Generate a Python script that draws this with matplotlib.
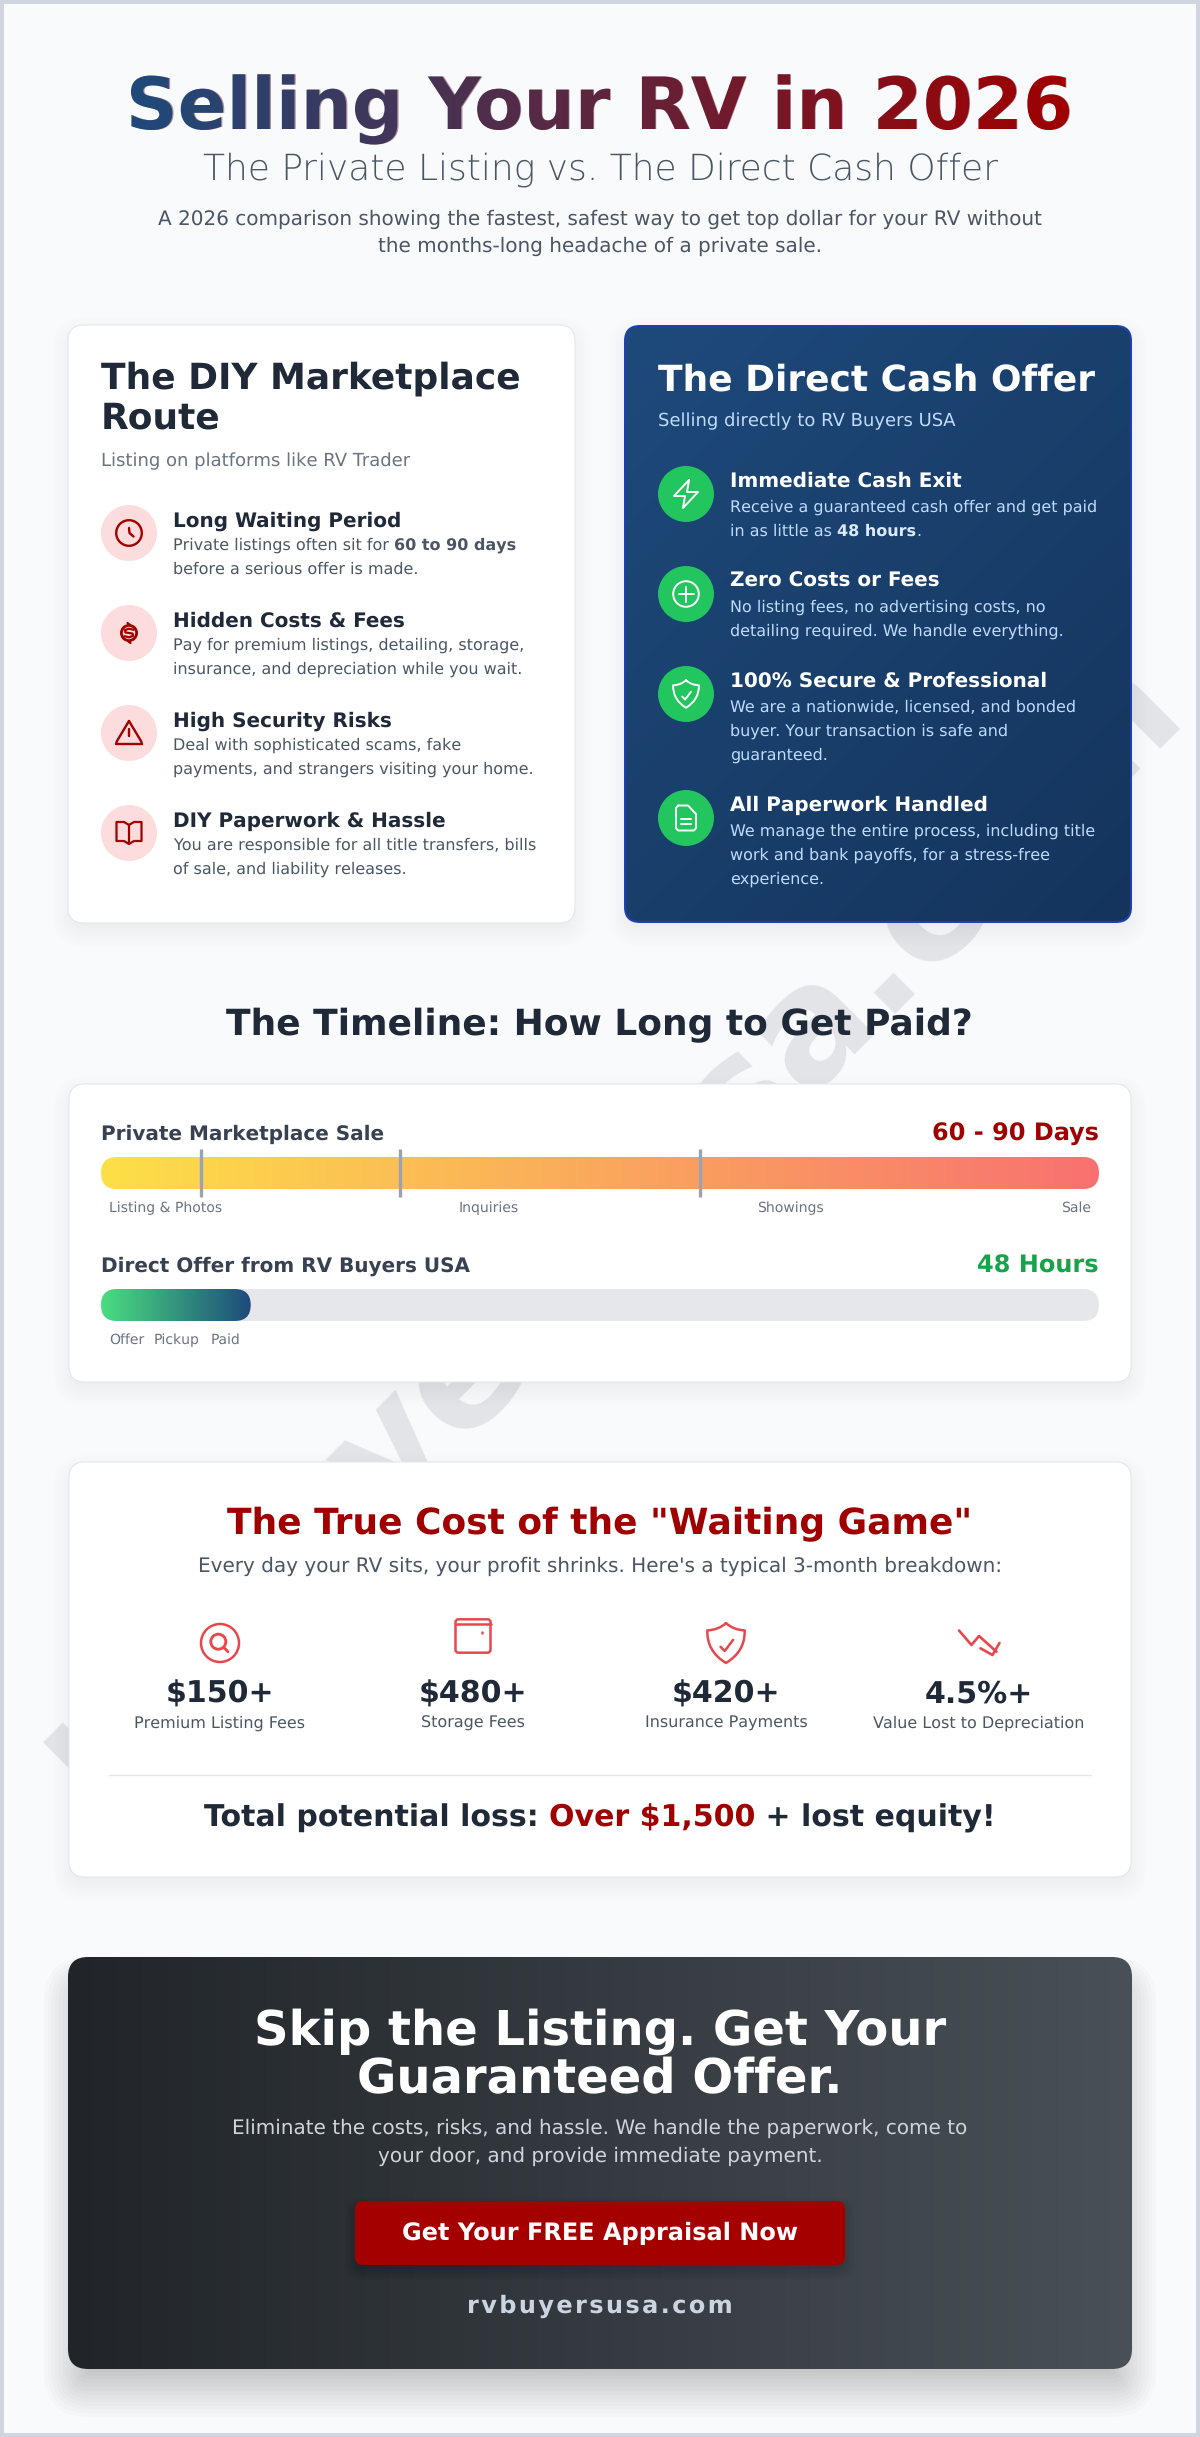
"""
Selling Your RV in 2026 - infographic rebuilt with matplotlib
Everything is placed in page pixels (1200 x 2437)
"""

import numpy as np
import matplotlib.pyplot as plt
from matplotlib.colors import to_rgb
from matplotlib.font_manager import FontProperties
from matplotlib.patches import Circle, FancyBboxPatch, PathPatch, Rectangle
from matplotlib.path import Path
from matplotlib.textpath import TextPath

plt.rcParams["font.family"] = ["DejaVu Sans"]
plt.rcParams["text.hinting"] = "no_hinting"
plt.rcParams["text.hinting_factor"] = 1

PAGE_W, PAGE_H = 1200, 2437

# ---- content ----
title = "Selling Your RV in 2026"
subtitle = "The Private Listing vs. The Direct Cash Offer"
intro_lines = [
    "A 2026 comparison showing the fastest, safest way to get top dollar for your RV without",
    "the months-long headache of a private sale.",
]

diy_title = ["The DIY Marketplace", "Route"]
diy_sub = "Listing on platforms like RV Trader"
diy_heads = ["Long Waiting Period", "Hidden Costs & Fees", "High Security Risks", "DIY Paperwork & Hassle"]
diy_bodies = [
    [[("Private listings often sit for ", "normal"), ("60 to 90 days", "bold")], [("before a serious offer is made.", "normal")]],
    [[("Pay for premium listings, detailing, storage,", "normal")], [("insurance, and depreciation while you wait.", "normal")]],
    [[("Deal with sophisticated scams, fake", "normal")], [("payments, and strangers visiting your home.", "normal")]],
    [[("You are responsible for all title transfers, bills", "normal")], [("of sale, and liability releases.", "normal")]],
]

cash_title = "The Direct Cash Offer"
cash_sub = "Selling directly to RV Buyers USA"
cash_heads = ["Immediate Cash Exit", "Zero Costs or Fees", "100% Secure & Professional", "All Paperwork Handled"]
cash_bodies = [
    [[("Receive a guaranteed cash offer and get paid", "normal")], [("in as little as ", "normal"), ("48 hours", "bold"), (".", "normal")]],
    [[("No listing fees, no advertising costs, no", "normal")], [("detailing required. We handle everything.", "normal")]],
    [[("We are a nationwide, licensed, and bonded", "normal")], [("buyer. Your transaction is safe and", "normal")], [("guaranteed.", "normal")]],
    [[("We manage the entire process, including title", "normal")], [("work and bank payoffs, for a stress-free", "normal")], [("experience.", "normal")]],
]

timeline_title = "The Timeline: How Long to Get Paid?"
private_label, private_time = "Private Marketplace Sale", "60 - 90 Days"
private_marks = [0.10, 0.30, 0.60]  # share of the bar
private_stages = ["Listing & Photos", "Inquiries", "Showings", "Sale"]
direct_label, direct_time = "Direct Offer from RV Buyers USA", "48 Hours"
direct_fill = 0.15
direct_stages = ["Offer", "Pickup", "Paid"]

cost_title = 'The True Cost of the "Waiting Game"'
cost_sub = "Every day your RV sits, your profit shrinks. Here's a typical 3-month breakdown:"
cost_values = ["$150+", "$480+", "$420+", "4.5%+"]
cost_labels = ["Premium Listing Fees", "Storage Fees", "Insurance Payments", "Value Lost to Depreciation"]
total_parts = [("Total potential loss: ", "#1f2937"), ("Over $1,500", "#a00000"), (" + lost equity!", "#1f2937")]

cta_heads = ["Skip the Listing. Get Your", "Guaranteed Offer."]
cta_lines = [
    "Eliminate the costs, risks, and hassle. We handle the paperwork, come to",
    "your door, and provide immediate payment.",
]
cta_button = "Get Your FREE Appraisal Now"
cta_url = "rvbuyersusa.com"
watermark = "rvbuyersusa.com"

# ---- colours ----
INK = "#1f2937"
SLATE = "#374151"
GREY = "#4b5563"
MUTED = "#6b7280"
RED = "#a00000"
NAVY = "#1e4a7b"
LINE = "#e5e7eb"

# ---- page ----
fig = plt.figure(figsize=(PAGE_W / 100, PAGE_H / 100), dpi=100)
ax = fig.add_axes([0, 0, 1, 1])
ax.set_xlim(0, PAGE_W)
ax.set_ylim(PAGE_H, 0)
ax.set_autoscale_on(False)
ax.axis("off")
renderer = fig.canvas.get_renderer()


def put(x, y, s, px, color=INK, weight="normal", ha="left", z=5, **kw):
    """Text at baseline y with the size given in css pixels."""
    return ax.text(x, y, s, fontsize=px * 0.72, color=color, fontweight=weight,
                   ha=ha, va="baseline", zorder=z, **kw)


def text_width(s, px, weight="normal"):
    # the bar keeps trailing spaces in the measurement
    t = ax.text(0, 0, s + "|", fontsize=px * 0.72, fontweight=weight)
    b = ax.text(0, 0, "|", fontsize=px * 0.72, fontweight=weight)
    w = t.get_window_extent(renderer).width - b.get_window_extent(renderer).width
    t.remove()
    b.remove()
    return w


def put_runs(x, y, runs, px, z=5):
    """runs = list of (string, colour, weight), drawn one after the other."""
    for s, color, weight in runs:
        put(x, y, s, px, color, weight, z=z)
        x += text_width(s, px, weight)


def box(x, y, w, h, r, z=2, **kw):
    p = FancyBboxPatch((x, y), w, h, boxstyle=f"round,pad=0,rounding_size={r}",
                       transform=ax.transData, zorder=z, **kw)
    ax.add_patch(p)
    return p


def gradient_image(w, h, c0, c1, angle):
    """CSS style linear gradient as an image."""
    w_i, h_i = int(round(w)), int(round(h))
    xx, yy = np.meshgrid(np.arange(w_i) + 0.5 - w_i / 2, np.arange(h_i) + 0.5 - h_i / 2)
    a = np.deg2rad(angle)
    length = abs(w_i * np.sin(a)) + abs(h_i * np.cos(a))
    t = np.clip((xx * np.sin(a) - yy * np.cos(a)) / length + 0.5, 0, 1)[..., None]
    return (1 - t) * np.array(to_rgb(c0)) + t * np.array(to_rgb(c1))


def gradient_box(x, y, w, h, r, c0, c1, angle=90, z=3):
    clip = FancyBboxPatch((x, y), w, h, boxstyle=f"round,pad=0,rounding_size={r}",
                          transform=ax.transData)
    im = ax.imshow(gradient_image(w, h, c0, c1, angle), extent=(x, x + w, y + h, y),
                   aspect="auto", zorder=z, interpolation="bilinear")
    im.set_clip_path(clip)
    return im


def shadow(x, y, w, h, r, dy, blur, alpha, inset=0, z=1):
    n = 16
    for i in range(n):
        g = blur * (1 - 2 * i / n) - inset
        box(x - g, y + dy - g, w + 2 * g, h + 2 * g, max(r + g, 1), z=z,
            facecolor="black", edgecolor="none", alpha=alpha / n)


def stroke(pts, cx, cy, color, lw=1.5):
    """Icon line, points given relative to the icon centre."""
    arr = np.array(pts, dtype=float) + [cx, cy]
    ax.plot(arr[:, 0], arr[:, 1], color=color, lw=lw, solid_capstyle="round",
            solid_joinstyle="round", zorder=6)


M, L, C3 = Path.MOVETO, Path.LINETO, Path.CURVE3


def ring(cx, cy, r, color, lw):
    ax.add_patch(Circle((cx, cy), r, facecolor="none", edgecolor=color, lw=lw, zorder=6))


def icon_clock(cx, cy, color, lw=1.7):
    ring(cx, cy, 12.8, color, lw)
    stroke([(0, -5), (0.5, 0), (4.5, 3.5)], cx, cy, color, lw)


def icon_money(cx, cy, color, lw=2.0):
    ring(cx, cy, 7.6, color, lw)
    stroke([(4.5, -3.2), (0, -4.3), (-4, -3), (-3.5, -0.5), (0, 0), (3.5, 0.5), (4, 3), (0, 4.3), (-4.5, 3.2)],
           cx, cy, color, lw * 0.8)
    stroke([(-1.5, -10), (0.5, -8.5)], cx, cy, color, lw * 0.8)
    stroke([(1.5, 10), (-0.5, 8.5)], cx, cy, color, lw * 0.8)


def icon_warning(cx, cy, color, lw=1.7):
    stroke([(0, -12), (12, 8), (13, 11), (-13, 11), (-12, 8), (0, -12)], cx, cy, color, lw)
    stroke([(0, -4), (0, 3)], cx, cy, color, lw)
    stroke([(0, 7), (0, 7.3)], cx, cy, color, lw)


def icon_book(cx, cy, color, lw=1.6):
    stroke([(0, -8), (0, 11)], cx, cy, color, lw)
    stroke([(0, -8), (-5, -11), (-12.5, -11), (-12.5, 8), (-5, 8), (0, 11), (5, 8), (12.5, 8),
            (12.5, -11), (5, -11), (0, -8)], cx, cy, color, lw)


def icon_bolt(cx, cy, color, lw=1.4):
    stroke([(3, -14), (-12, 2), (-1, 2), (-3, 14), (12, -2), (1, -2), (3, -14)], cx, cy, color, lw)


def icon_plus(cx, cy, color, lw=1.4):
    ring(cx, cy, 12.8, color, lw)
    stroke([(0, -7.5), (0, 7.5)], cx, cy, color, lw)
    stroke([(-7.5, 0), (7.5, 0)], cx, cy, color, lw)


def icon_shield(cx, cy, s, color, lw=1.4):
    verts = np.array([(0, -9.5), (3.5, -6.2), (8.9, -6), (9.2, 4), (0, 9.5), (0, 9.5),
                      (-9.2, 4), (-8.9, -6), (-3.5, -6.2), (0, -9.5)]) * s + [cx, cy]
    codes = [M, C3, C3, C3, C3, L, C3, C3, C3, C3]
    ax.add_patch(PathPatch(Path(verts, codes), facecolor="none", edgecolor=color, lw=lw,
                           joinstyle="round", capstyle="round", zorder=6))
    stroke([(-2.6 * s, 1.8 * s), (-0.6 * s, 3.8 * s), (3.4 * s, -1.5 * s)], cx, cy, color, lw)


def icon_doc(cx, cy, color, lw=1.4):
    stroke([(-8, -12.5), (2, -12.5), (10, -4), (10, 10), (8, 12.5), (-8, 12.5), (-10, 10), (-10, -10), (-8, -12.5)],
           cx, cy, color, lw)
    stroke([(-5, 1), (5, 1)], cx, cy, color, lw)
    stroke([(-5, 6), (5, 6)], cx, cy, color, lw)


def icon_search(cx, cy, color, lw=1.8):
    ring(cx, cy, 19, color, lw)
    ring(cx - 1.7, cy - 1.3, 7.5, color, lw * 1.15)
    stroke([(4, 4.7), (8, 8.7)], cx, cy, color, lw * 1.15)


def icon_box(cx, cy, color, lw=1.8):
    box(cx - 17.5, cy - 16.7, 35, 33.4, 3, z=6, facecolor="none", edgecolor=color, lw=lw)
    stroke([(-17.5, -12), (17.5, -12)], cx, cy, color, lw)
    stroke([(8.7, -3.7), (8.7, -3.4)], cx, cy, color, lw)


def icon_trend(cx, cy, color, lw=1.9):
    stroke([(-20, -12.5), (-7.5, 2), (0, -7), (17.5, 8.7)], cx, cy, color, lw)
    stroke([(20.5, 0), (13.5, 12), (1.5, 5.3)], cx, cy, color, lw)


# ---- background ----
ax.add_patch(Rectangle((0, 0), PAGE_W, PAGE_H, facecolor="#d1d5e0", edgecolor="none", zorder=0))
ax.add_patch(Rectangle((4, 4), PAGE_W - 8, PAGE_H - 8, facecolor="#f9fafb", edgecolor="none", zorder=0))
ax.text(92, 1805, watermark, fontsize=160 * 0.72, fontweight="bold", color="#e2e4e8",
        rotation=45, rotation_mode="anchor", ha="left", va="baseline", zorder=0.5)

# ---- header ----
title_px = 72
put(PAGE_W / 2, 129, title, title_px, "#5f2548", "bold", ha="center", alpha=0.5)
# gradient fill laid over the text, clipped to its outline
tp = TextPath((0, 0), title, prop=FontProperties(family="DejaVu Sans", weight="bold", size=title_px))
title_ext = tp.get_extents()
title_x0 = PAGE_W / 2 - title_ext.width / 2
tv = tp.vertices * [1, -1] + [title_x0 - title_ext.x0, 129]
clip_title = PathPatch(Path(tv, tp.codes), transform=ax.transData)
im = ax.imshow(gradient_image(title_ext.width, 90, NAVY, RED, 90),
               extent=(title_x0, title_x0 + title_ext.width, 145, 55), aspect="auto", zorder=5.5)
im.set_clip_path(clip_title)

put(PAGE_W / 2, 180, subtitle, 36, GREY, "light", ha="center")
put(PAGE_W / 2, 225, intro_lines[0], 20, GREY, ha="center")
put(PAGE_W / 2, 252, intro_lines[1], 20, GREY, ha="center")

# ---- DIY card ----
shadow(68, 325, 507, 598, 16, 8, 16, 0.09)
box(68, 325, 507, 598, 16, facecolor="white", edgecolor=LINE, lw=0.8)
put(101, 389, diy_title[0], 36, INK, "bold")
put(101, 428.5, diy_title[1], 36, INK, "bold")
put(101, 466, diy_sub, 18, MUTED)
diy_icons = [icon_clock, icon_money, icon_warning, icon_book]
for i, (head, body, draw_icon) in enumerate(zip(diy_heads, diy_bodies, diy_icons)):
    cy = 533 + 100 * i
    ax.add_patch(Circle((129, cy), 28, facecolor="#fcdcdc", edgecolor="none", zorder=4))
    draw_icon(129, cy, RED)
    put(173, cy - 6, head, 20, INK, "bold")
    for j, line in enumerate(body):
        put_runs(173, cy + 17 + 24 * j, [(s, GREY, w) for s, w in line], 16)

# ---- cash card ----
shadow(624, 325, 508, 598, 16, 8, 16, 0.09)
box(624, 325, 508, 598, 16, facecolor="#1e40af", edgecolor="none")
gradient_box(626, 327, 504, 594, 14, "#1e4a7b", "#14345c", 135)
put(657.5, 390, cash_title, 36, "white", "bold")
put(657.5, 426.5, cash_sub, 18, "#bfdbfe")
cash_y = [494, 594, 694, 818]
cash_icons = [icon_bolt, icon_plus, lambda x, y, c: icon_shield(x, y, 1.45, c), icon_doc]
for cy, head, body, draw_icon in zip(cash_y, cash_heads, cash_bodies, cash_icons):
    ax.add_patch(Circle((686, cy), 28, facecolor="#22c55e", edgecolor="none", zorder=4))
    draw_icon(686, cy, "white")
    put(730, cy - 7, head, 20, "white", "bold")
    for j, line in enumerate(body):
        runs = [(s, "#dbeafe" if w == "bold" else "#bfdbfe", w) for s, w in line]
        put_runs(730, cy + 18 + 24 * j, runs, 16)

# ---- timeline ----
put(PAGE_W / 2 - 1, 1035, timeline_title, 36, INK, "bold", ha="center")
shadow(69, 1084, 1062, 298, 16, 8, 16, 0.09)
box(69, 1084, 1062, 298, 16, facecolor="white", edgecolor=LINE, lw=0.8)

BAR_X, BAR_W, BAR_H = 101, 998, 32
put(BAR_X, 1140, private_label, 20, SLATE, "bold")
put(BAR_X + BAR_W, 1141, private_time, 24, RED, "bold", ha="right")
gradient_box(BAR_X, 1157, BAR_W, BAR_H, 16, "#fde047", "#f87171", 90, z=4)
for m in private_marks:
    ax.plot([BAR_X + m * BAR_W] * 2, [1149, 1197], color="#9ca3af", lw=2.4, zorder=5, solid_capstyle="butt")
private_stage_x = [109, 489, 790, 1091]
for s, x, ha in zip(private_stages, private_stage_x, ["left", "center", "center", "right"]):
    put(x, 1212, s, 14, MUTED, ha=ha)

put(BAR_X, 1272, direct_label, 20, SLATE, "bold")
put(BAR_X + BAR_W, 1273, direct_time, 24, "#16a34a", "bold", ha="right")
box(BAR_X, 1289, BAR_W, BAR_H, 16, z=3.5, facecolor=LINE, edgecolor="none")
gradient_box(BAR_X, 1289, direct_fill * BAR_W, BAR_H, 16, "#4ade80", NAVY, 90, z=4)
for s, x in zip(direct_stages, [109, 153.5, 211]):
    put(x, 1344, s, 14, MUTED)

# ---- waiting game ----
shadow(69, 1462, 1062, 415, 16, 8, 16, 0.09)
box(69, 1462, 1062, 415, 16, facecolor="white", edgecolor=LINE, lw=0.8)
put(PAGE_W / 2, 1534, cost_title, 36, RED, "bold", ha="center")
put(PAGE_W / 2, 1572, cost_sub, 20, GREY, ha="center")
cost_x = [220, 473, 726, 979]
cost_icon_y = [1643, 1636, 1643, 1643]
icon_col = "#e5484d"
for x, iy, val, lab, draw_icon in zip(cost_x, cost_icon_y, cost_values, cost_labels,
                                      [icon_search, icon_box, lambda a, b, c: icon_shield(a, b, 2.1, c, 1.8), icon_trend]):
    draw_icon(x, iy, icon_col)
    put(x, 1703, val, 30, INK, "bold", ha="center")
    put(x, 1728, lab, 16, GREY, ha="center")
ax.plot([109, 1091], [1775, 1775], color=LINE, lw=1.0, zorder=4)
total_w = sum(text_width(s, 30, "bold") for s, _ in total_parts)
put_runs(PAGE_W / 2 - total_w / 2, 1827, [(s, c, "bold") for s, c in total_parts], 30)

# ---- call to action ----
shadow(68, 1957, 1064, 412, 20, 24, 30, 0.25, inset=6)
gradient_box(68, 1957, 1064, 412, 20, "#212529", "#495057", 90)
put(PAGE_W / 2, 2045, cta_heads[0], 48, "white", "bold", ha="center")
put(PAGE_W / 2, 2093, cta_heads[1], 48, "white", "bold", ha="center")
put(PAGE_W / 2, 2134, cta_lines[0], 20, "#d1d5db", ha="center")
put(PAGE_W / 2, 2162, cta_lines[1], 20, "#d1d5db", ha="center")
shadow(355, 2201, 490, 64, 8, 6, 10, 0.18, z=3.5)
box(355, 2201, 490, 64, 8, z=4, facecolor="#a50000", edgecolor="none")
put(PAGE_W / 2, 2240, cta_button, 24, "white", "bold", ha="center")
put(PAGE_W / 2, 2313, "\u200a".join(cta_url), 24.5, "#cbd5e1", "bold", ha="center")

fig.savefig("out.png", dpi=100)
